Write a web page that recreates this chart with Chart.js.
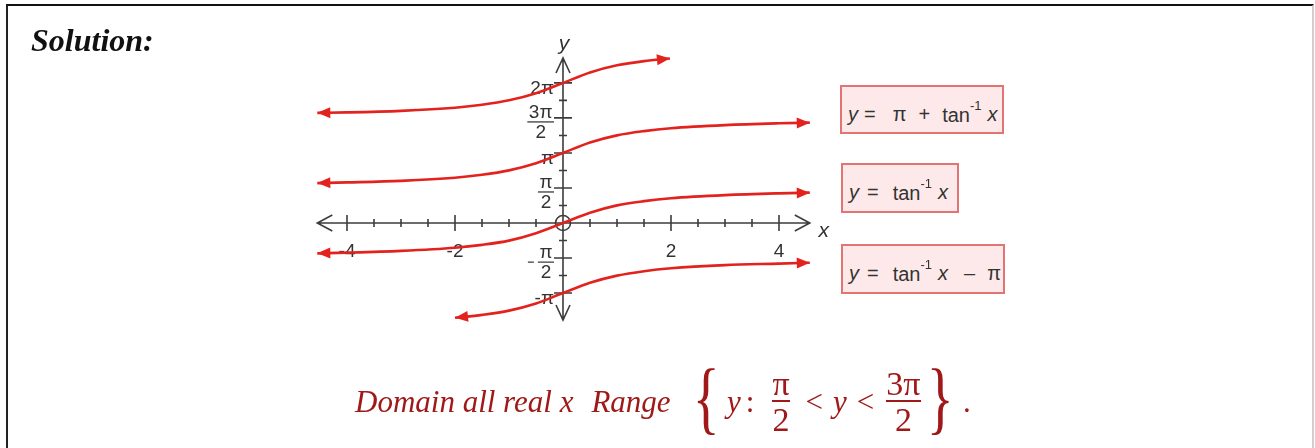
<!DOCTYPE html>
<html>
<head>
<meta charset="utf-8">
<script src="https://cdn.jsdelivr.net/npm/chart.js@4.4.0/dist/chart.umd.min.js"></script>
<style>
  html, body { margin: 0; padding: 0; background: #fff; }
  body { width: 1315px; height: 448px; position: relative; overflow: hidden; font-family: 'Liberation Sans', Arial, sans-serif; }
  #frame { position: absolute; left: 6px; top: 4px; width: 1308px; height: 460px; box-sizing: border-box;
           border-top: 2px solid #111; border-left: 2px solid #222; border-right: 2px solid #cfcfcf; }
  #graph { position: absolute; left: 0; top: 0; }
  #solution { position: absolute; left: 31px; top: 24px; font: italic bold 32px/32px 'Liberation Serif', 'Times New Roman', serif; color: #111; }
  .eq { position: absolute; box-sizing: border-box; border: 2px solid #e27474; background: #fde9e9;
        display: flex; align-items: center; padding-left: 6px; padding-top: 9px;
        font: 20px 'Liberation Sans', Arial, sans-serif; color: #333; white-space: nowrap; }
  .eq i { font-style: italic; }
  .eq sup { font-size: 13px; position: relative; top: -4px; }
  #answer { position: absolute; left: 355px; top: 362px; height: 80px; display: flex; align-items: center;
            font: 31px 'Liberation Serif', 'Times New Roman', serif; color: #a01818; white-space: nowrap; }
  #answer .it { font-style: italic; }
  #answer .brace { font-size: 80px; line-height: 80px; transform: scaleX(0.7); position: relative; top: -5px; }
  #answer .frac { display: inline-flex; flex-direction: column; align-items: center; font-size: 34px; line-height: 30px; margin: 0 6px; }
  #answer .bar { width: 100%; height: 1.4px; background: #a01818; margin: 1px 0 3px 0; }
  #answer .mo { margin: 0 10px; }
</style>
</head>
<body>
<div id="frame"></div>
<canvas id="graph" width="1315" height="448"></canvas>
<div id="solution">Solution:</div>

<div class="eq" style="left:840px; top:85px; width:164px; height:49px;">
  <i>y</i><span style="margin-left:6px">=</span><span style="margin-left:17px">π</span><span style="margin-left:12px">+</span><span style="margin-left:12px">tan<sup>-1</sup></span><i style="margin-left:6px">x</i>
</div>
<div class="eq" style="left:841px; top:163px; width:118px; height:50px;">
  <i>y</i><span style="margin-left:8px">=</span><span style="margin-left:14px">tan<sup>-1</sup></span><i style="margin-left:6px">x</i>
</div>
<div class="eq" style="left:841px; top:244px; width:164px; height:50px;">
  <i>y</i><span style="margin-left:8px">=</span><span style="margin-left:14px">tan<sup>-1</sup></span><i style="margin-left:6px">x</i><span style="margin-left:16px">–</span><span style="margin-left:12px">π</span>
</div>

<div id="answer">
  <span class="it">Domain all real x</span>
  <span class="it" style="margin-left:18px">Range</span>
  <span class="brace" style="margin-left:16px">{</span>
  <span class="it" style="margin-left:2px">y</span>
  <span class="mo" style="margin:0 12px 0 5px">:</span>
  <span class="frac"><span>π</span><span class="bar"></span><span>2</span></span>
  <span class="mo">&lt;</span>
  <span class="it">y</span>
  <span class="mo">&lt;</span>
  <span class="frac" style="margin-left:2px"><span>3π</span><span class="bar"></span><span>2</span></span>
  <span class="brace" style="margin-left:-6px">}</span>
  <span style="margin-left:4px">.</span>
</div>

<script>
// tick positions and labels
const xTicksMajor = [-4, -2, 2, 4];
const xTickLabels = ['-4', '-2', '2', '4'];
const xTicksMinor = [-3.5, -3, -2.5, -1.5, -1, -0.5, 0.5, 1, 1.5, 2.5, 3, 3.5];
const yTicksMajor = [-3.1416, -1.5708, 1.5708, 3.1416, 4.7124, 6.2832];
const yTickLabels = ['-π', '-π/2', 'π/2', 'π', '3π/2', '2π'];
const yTicksMinor = [-2.3562, -0.7854, 0.7854, 2.3562, 3.927, 5.4978];

// curves
const xTop = [-4.55, -4, -3, -2, -1.5, -1, -0.5, 0, 0.5, 1, 1.5, 1.98];
const yTop = [4.94, 4.96, 5.03, 5.17, 5.30, 5.50, 5.82, 6.28, 6.75, 7.07, 7.26, 7.38];

const xMid = [-4.55, -4, -3, -2, -1.5, -1, -0.5, 0, 0.5, 1, 1.5, 2, 3, 4, 4.57];
const yMid = [1.79, 1.82, 1.89, 2.03, 2.16, 2.36, 2.68, 3.14, 3.61, 3.93, 4.12, 4.25, 4.39, 4.47, 4.50];

const xZero = [-4.55, -4, -3, -2, -1.5, -1, -0.5, 0, 0.5, 1, 1.5, 2, 3, 4, 4.57];
const yZero = [-1.36, -1.33, -1.25, -1.11, -0.98, -0.79, -0.46, 0, 0.46, 0.79, 0.98, 1.11, 1.25, 1.33, 1.36];

const xLow = [-2, -1.5, -1, -0.5, 0, 0.5, 1, 1.5, 2, 3, 4, 4.57];
const yLow = [-4.25, -4.12, -3.93, -3.61, -3.14, -2.68, -2.36, -2.16, -2.03, -1.89, -1.82, -1.78];

const xAxisEnds = [-4.55, 4.57];
const yAxisEnds = [-4.35, 7.4];

function toPoints(xs, ys) {
    return xs.map((x, i) => ({ x: x, y: ys[i] }));
}

function curve(xs, ys) {
    return {
        data: toPoints(xs, ys),
        showLine: true,
        borderColor: '#e3221e',
        borderWidth: 2.6,
        pointRadius: 0,
        fill: false,
        cubicInterpolationMode: 'monotone',
        clip: false
    };
}

const axesPlugin = {
    id: 'piAxes',
    beforeDatasetsDraw(chart) {
        const ctx = chart.ctx;
        const xs = chart.scales.x, ys = chart.scales.y;
        const x0 = xs.getPixelForValue(0), y0 = ys.getPixelForValue(0);
        ctx.save();
        ctx.strokeStyle = '#3c3c3c';
        ctx.lineWidth = 1.6;

        // x axis with open arrow heads
        const xl = xs.getPixelForValue(xAxisEnds[0]), xr = xs.getPixelForValue(xAxisEnds[1]);
        ctx.beginPath();
        ctx.moveTo(xl, y0); ctx.lineTo(xr, y0);
        ctx.moveTo(xl + 15, y0 - 8); ctx.lineTo(xl, y0); ctx.lineTo(xl + 15, y0 + 8);
        ctx.moveTo(xr - 15, y0 - 8); ctx.lineTo(xr, y0); ctx.lineTo(xr - 15, y0 + 8);
        ctx.stroke();

        // y axis
        const yt = ys.getPixelForValue(yAxisEnds[1]), yb = ys.getPixelForValue(yAxisEnds[0]);
        ctx.beginPath();
        ctx.moveTo(x0, yb); ctx.lineTo(x0, yt);
        ctx.moveTo(x0 - 7, yt + 15); ctx.lineTo(x0, yt); ctx.lineTo(x0 + 7, yt + 15);
        ctx.moveTo(x0 - 7, yb - 15); ctx.lineTo(x0, yb); ctx.lineTo(x0 + 7, yb - 15);
        ctx.stroke();

        // ticks
        ctx.beginPath();
        xTicksMajor.forEach(v => { const p = xs.getPixelForValue(v); ctx.moveTo(p, y0 - 8); ctx.lineTo(p, y0 + 8); });
        xTicksMinor.forEach(v => { const p = xs.getPixelForValue(v); ctx.moveTo(p, y0 - 4); ctx.lineTo(p, y0 + 4); });
        yTicksMajor.forEach(v => { const p = ys.getPixelForValue(v); ctx.moveTo(x0 - 9, p); ctx.lineTo(x0 + 9, p); });
        yTicksMinor.forEach(v => { const p = ys.getPixelForValue(v); ctx.moveTo(x0 - 4, p); ctx.lineTo(x0 + 4, p); });
        ctx.stroke();

        // open circle at the origin
        ctx.beginPath();
        ctx.arc(x0, y0, 7.5, 0, Math.PI * 2);
        ctx.stroke();

        // tick labels
        ctx.fillStyle = '#333';
        ctx.font = '19px "Liberation Sans", Arial, sans-serif';
        ctx.textAlign = 'center';
        ctx.textBaseline = 'middle';
        xTicksMajor.forEach((v, i) => {
            ctx.fillText(xTickLabels[i], xs.getPixelForValue(v), y0 + 29);
        });

        const right = x0 - 9;
        yTicksMajor.forEach((v, i) => {
            const p = ys.getPixelForValue(v);
            let label = yTickLabels[i];
            if (label.indexOf('/') < 0) {
                ctx.textAlign = 'right';
                ctx.fillText(label, right, p + 6);
                return;
            }
            let minus = false;
            if (label[0] === '-') { minus = true; label = label.slice(1); }
            const parts = label.split('/');
            const w = Math.max(ctx.measureText(parts[0]).width, ctx.measureText(parts[1]).width) + 3;
            const cx = right - w / 2;
            const bar = p + 4;
            ctx.textAlign = 'center';
            ctx.fillText(parts[0], cx, bar - 9);
            ctx.fillText(parts[1], cx, bar + 11);
            ctx.beginPath();
            ctx.lineWidth = 1.3;
            ctx.moveTo(cx - w / 2, bar); ctx.lineTo(cx + w / 2, bar);
            if (minus) { ctx.moveTo(cx - w / 2 - 10, bar); ctx.lineTo(cx - w / 2 - 4, bar); }
            ctx.stroke();
        });

        // axis names
        ctx.font = 'italic 21px "Liberation Sans", Arial, sans-serif';
        ctx.textAlign = 'center';
        ctx.fillText('y', x0 + 1, yt - 14);
        ctx.fillText('x', xr + 14, y0 + 8);
        ctx.restore();
    }
};

const arrowPlugin = {
    id: 'curveArrows',
    afterDatasetsDraw(chart) {
        const ctx = chart.ctx;
        ctx.save();
        chart.data.datasets.forEach((ds, i) => {
            const pts = chart.getDatasetMeta(i).data;
            ctx.fillStyle = ds.borderColor;
            head(ctx, pts[1], pts[0]);
            head(ctx, pts[pts.length - 2], pts[pts.length - 1]);
        });
        ctx.restore();
    }
};

function head(ctx, from, to) {
    const a = Math.atan2(to.y - from.y, to.x - from.x);
    const len = 13, half = 5.5;
    const bx = to.x - len * Math.cos(a), by = to.y - len * Math.sin(a);
    ctx.beginPath();
    ctx.moveTo(to.x, to.y);
    ctx.lineTo(bx + half * Math.sin(a), by - half * Math.cos(a));
    ctx.lineTo(bx - half * Math.sin(a), by + half * Math.cos(a));
    ctx.closePath();
    ctx.fill();
}

new Chart(document.getElementById('graph'), {
    type: 'scatter',
    data: {
        datasets: [
            curve(xTop, yTop),
            curve(xMid, yMid),
            curve(xZero, yZero),
            curve(xLow, yLow)
        ]
    },
    options: {
        responsive: false,
        animation: false,
        devicePixelRatio: 1,
        layout: { padding: { left: 293, right: 482, top: 44.6, bottom: 113.5 } },
        plugins: { legend: { display: false }, tooltip: { enabled: false } },
        scales: {
            x: { type: 'linear', min: -5, max: 5, display: false },
            y: { type: 'linear', min: -5, max: 8, display: false }
        }
    },
    plugins: [axesPlugin, arrowPlugin]
});
</script>
</body>
</html>
